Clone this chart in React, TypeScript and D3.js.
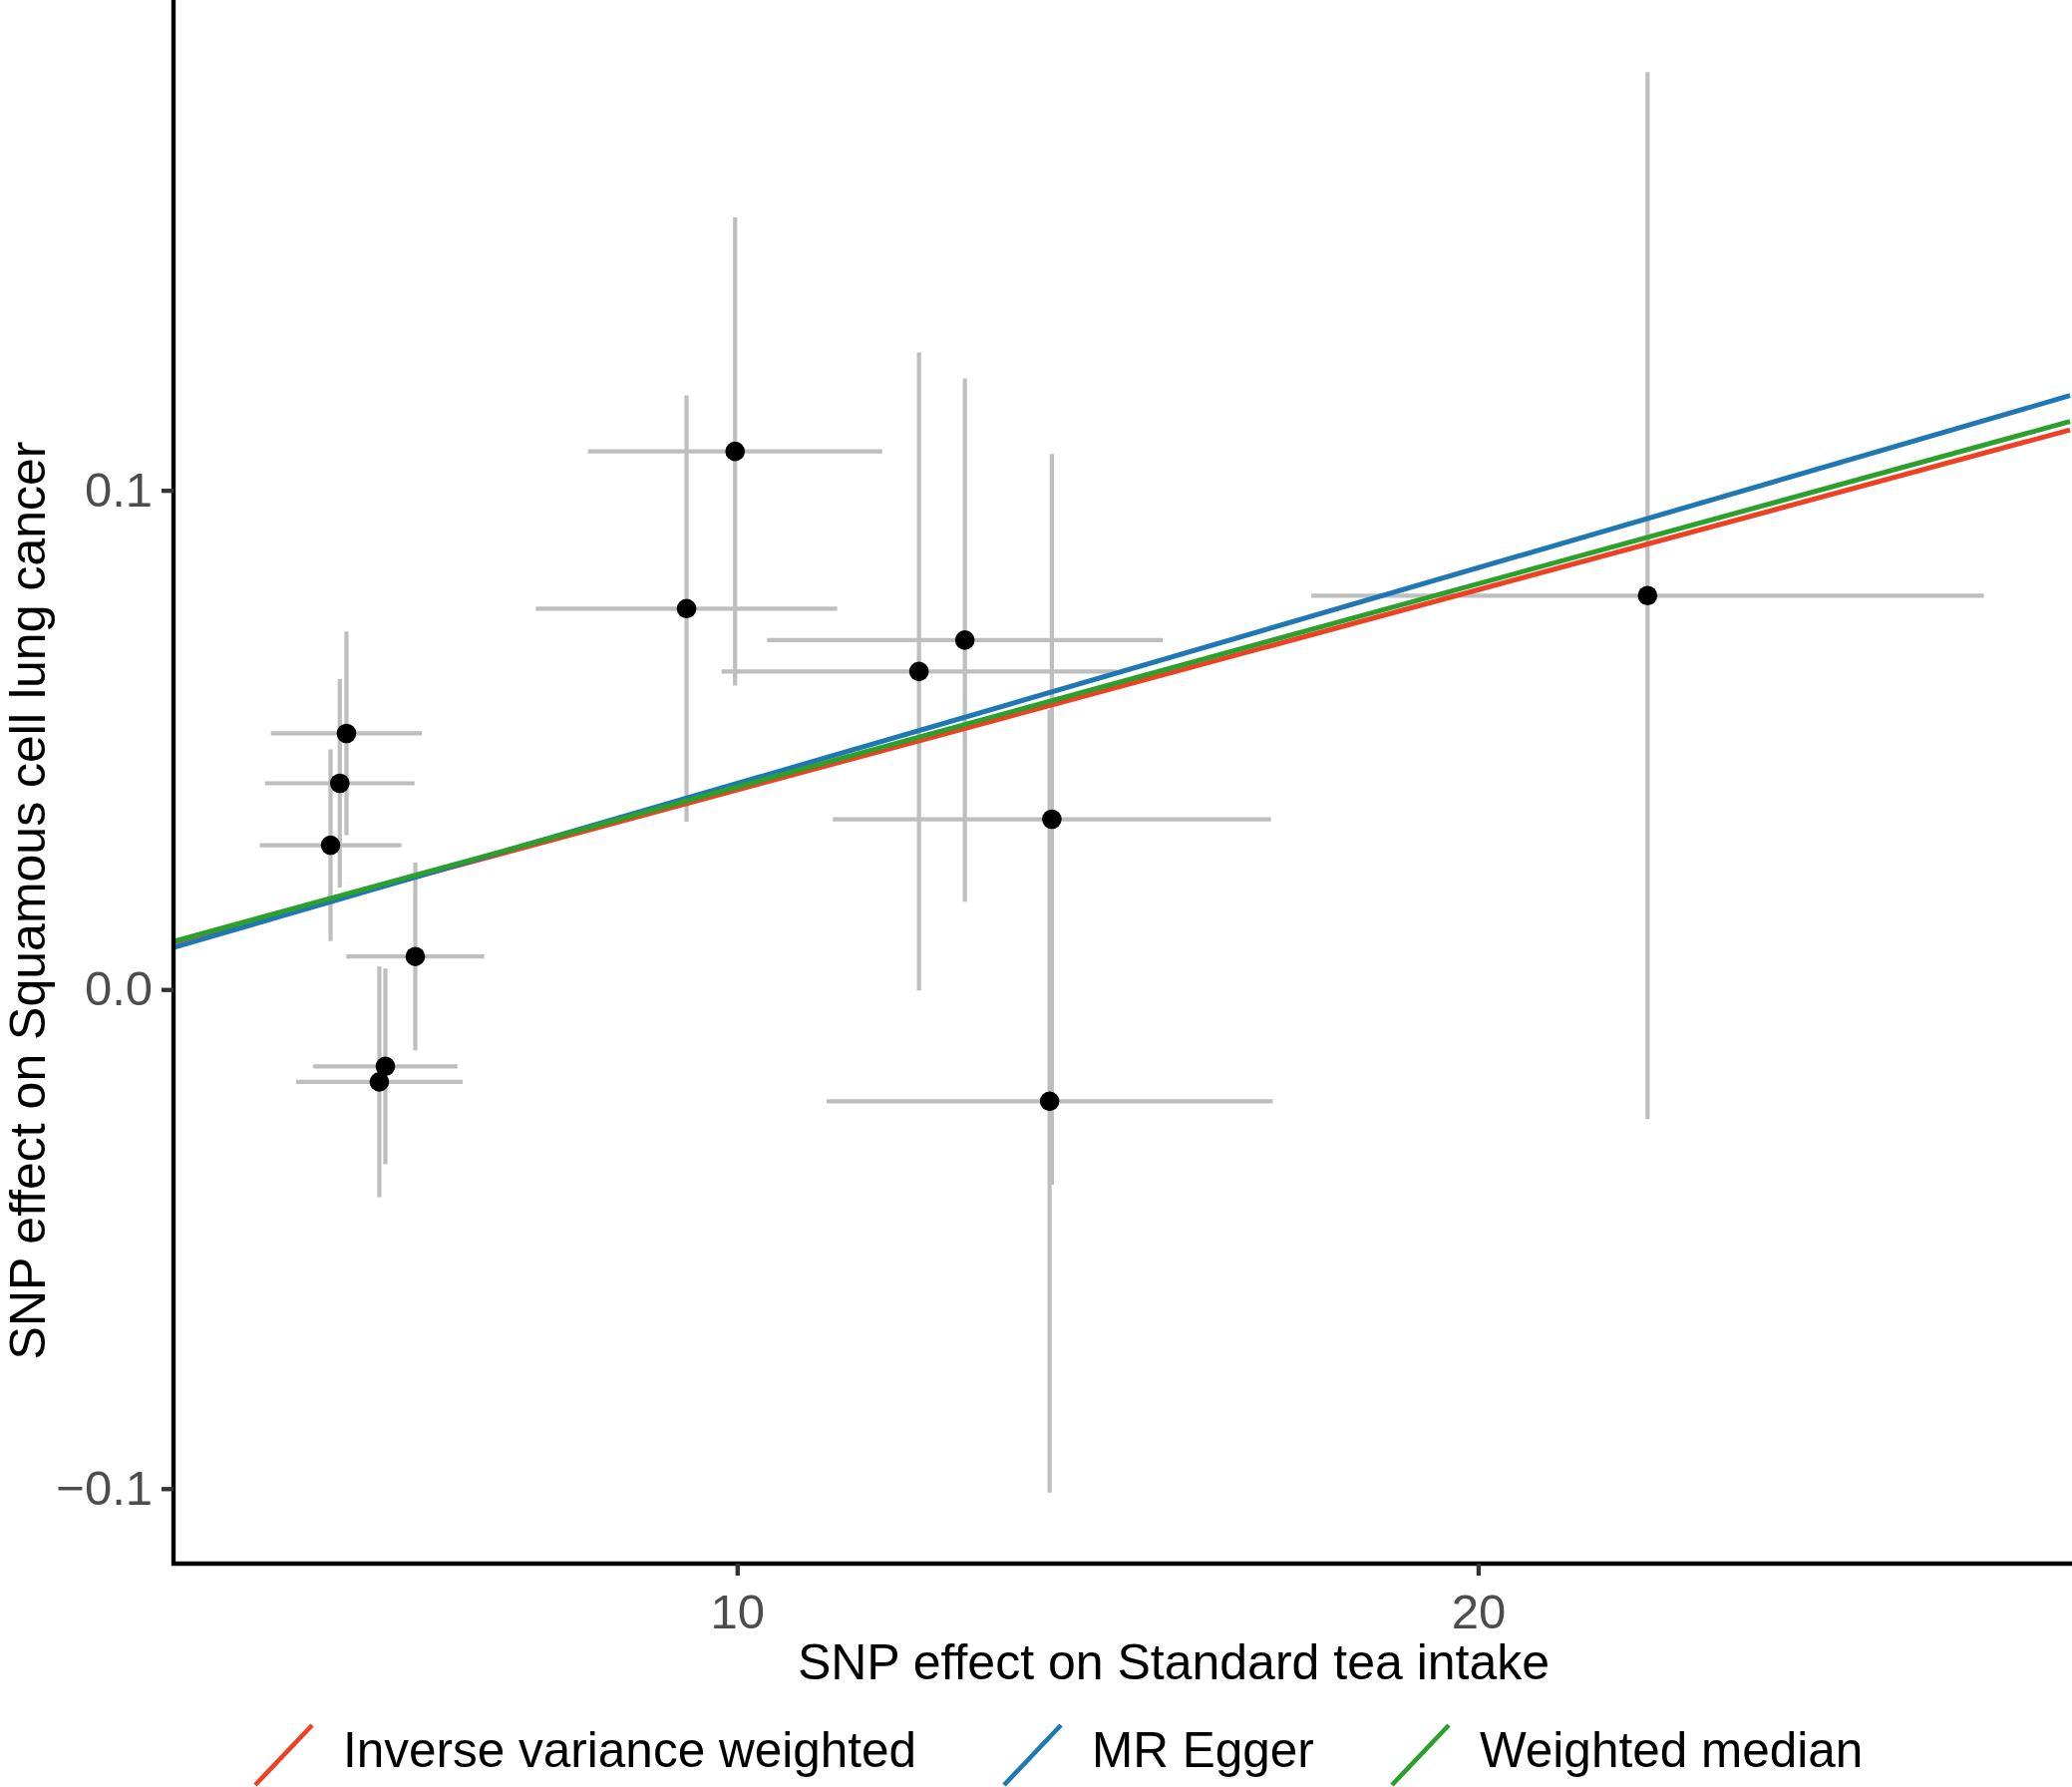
import React from "react"
import * as d3 from "d3"

// SNP effects
const snpExposure = [4.72, 4.63, 4.505, 5.649, 5.245, 5.164, 9.31, 9.965, 12.447, 13.066, 14.24, 14.21, 22.28]
const snpExposureSe = [1.019, 1.009, 0.956, 0.931, 0.973, 1.124, 2.034, 1.986, 2.665, 2.67, 2.957, 3.011, 4.538]
const snpOutcome = [0.0514, 0.0414, 0.029, 0.0067, -0.0153, -0.0184, 0.0764, 0.1079, 0.0638, 0.0701, 0.0342, -0.0223, 0.079]
const snpOutcomeSe = [0.0204, 0.0209, 0.0192, 0.0188, 0.0196, 0.0231, 0.0427, 0.0469, 0.0639, 0.0524, 0.0732, 0.0784, 0.1049]

const methodNames = ["Inverse variance weighted", "MR Egger", "Weighted median"]
const methodSlopes = [0.00401, 0.00432, 0.00407]
const methodIntercepts = [0, -0.0018, 0]
const methodColors = ["#EE4023", "#1F78B4", "#2CA02C"]
const drawOrder = [0, 1, 2]

const xTicks = [10, 20]
const yTicks = [-0.1, 0, 0.1]
const yTickLabels = ["\u22120.1", "0.0", "0.1"]

const xTitle = "SNP effect on Standard tea intake"
const yTitle = "SNP effect on Squamous cell lung cancer"

const FONT = "'Liberation Sans', Arial, Helvetica, sans-serif"

export default function App() {
  const width = 2078
  const height = 1792
  const panel = { left: 174, right: 2076, top: 1, bottom: 1568 }

  const xLo = d3.min(snpExposure.map((v, i) => v - snpExposureSe[i])) as number
  const xHi = d3.max(snpExposure.map((v, i) => v + snpExposureSe[i])) as number
  const yLo = d3.min(snpOutcome.map((v, i) => v - snpOutcomeSe[i])) as number
  const yHi = d3.max(snpOutcome.map((v, i) => v + snpOutcomeSe[i])) as number
  const xPad = (xHi - xLo) * 0.05
  const yPad = (yHi - yLo) * 0.05

  const x = d3.scaleLinear().domain([xLo - xPad, xHi + xPad]).range([panel.left, panel.right])
  const y = d3.scaleLinear().domain([yLo - yPad, yHi + yPad]).range([panel.bottom, panel.top])

  const [dx0, dx1] = x.domain()
  const fitLine = d3
    .line<number>()
    .x((d) => x(d))

  const legendKeyX = [256, 1007, 1396]
  const keyW = 57
  const keyTop = 1730
  const keyBottom = 1790

  const axisW = 4.3
  const tickLen = 12

  return (
    <svg
      width={width}
      height={height}
      style={{ position: "absolute", left: 0, top: 0, background: "#fff" }}
      fontFamily={FONT}
    >
      <defs>
        <clipPath id="panel-clip">
          <rect x={panel.left} y={0} width={width - panel.left} height={panel.bottom} />
        </clipPath>
      </defs>
      <rect width={width} height={height} fill="#fff" />

      <g clipPath="url(#panel-clip)">
        {/* vertical error bars */}
        {snpExposure.map((v, i) => (
          <line
            key={`ev${i}`}
            x1={x(v)}
            x2={x(v)}
            y1={y(snpOutcome[i] - snpOutcomeSe[i])}
            y2={y(snpOutcome[i] + snpOutcomeSe[i])}
            stroke="#BEBEBE"
            strokeWidth={4.2}
          />
        ))}
        {/* horizontal error bars */}
        {snpExposure.map((v, i) => (
          <line
            key={`eh${i}`}
            x1={x(v - snpExposureSe[i])}
            x2={x(v + snpExposureSe[i])}
            y1={y(snpOutcome[i])}
            y2={y(snpOutcome[i])}
            stroke="#BEBEBE"
            strokeWidth={4.2}
          />
        ))}
        {snpExposure.map((v, i) => (
          <circle key={`p${i}`} cx={x(v)} cy={y(snpOutcome[i])} r={9.8} fill="#000" />
        ))}
        {drawOrder.map((m) => (
          <path
            key={`m${m}`}
            d={
              fitLine.y((d) => y(methodIntercepts[m] + methodSlopes[m] * d))([dx0, dx1]) as string
            }
            fill="none"
            stroke={methodColors[m]}
            strokeWidth={5}
          />
        ))}
      </g>

      {/* axes */}
      <path
        d={`M${panel.left},0 V${panel.bottom} H${width}`}
        fill="none"
        stroke="#000"
        strokeWidth={axisW}
        strokeLinejoin="miter"
      />
      {yTicks.map((t, i) => (
        <g key={`yt${i}`}>
          <line
            x1={panel.left - tickLen}
            x2={panel.left}
            y1={y(t)}
            y2={y(t)}
            stroke="#333"
            strokeWidth={axisW}
          />
          <text x={panel.left - tickLen - 9} y={y(t) + 15.5} textAnchor="end" fontSize={49} fill="#4D4D4D">
            {yTickLabels[i]}
          </text>
        </g>
      ))}
      {xTicks.map((t, i) => (
        <g key={`xt${i}`}>
          <line
            x1={x(t)}
            x2={x(t)}
            y1={panel.bottom}
            y2={panel.bottom + tickLen}
            stroke="#333"
            strokeWidth={axisW}
          />
          <text x={x(t)} y={1633} textAnchor="middle" fontSize={49} fill="#4D4D4D">
            {t}
          </text>
        </g>
      ))}

      <text x={1177} y={1684} textAnchor="middle" fontSize={50} fill="#000">
        {xTitle}
      </text>
      <text transform="translate(45,903) rotate(-90)" textAnchor="middle" fontSize={50} fill="#000">
        {yTitle}
      </text>

      {/* legend */}
      {methodNames.map((name, i) => (
        <g key={`lg${i}`}>
          <line
            x1={legendKeyX[i]}
            y1={keyBottom}
            x2={legendKeyX[i] + keyW}
            y2={keyTop}
            stroke={methodColors[i]}
            strokeWidth={4.6}
          />
          <text x={legendKeyX[i] + keyW + 31} y={1772} fontSize={49.5} fill="#000">
            {name}
          </text>
        </g>
      ))}
    </svg>
  )
}
